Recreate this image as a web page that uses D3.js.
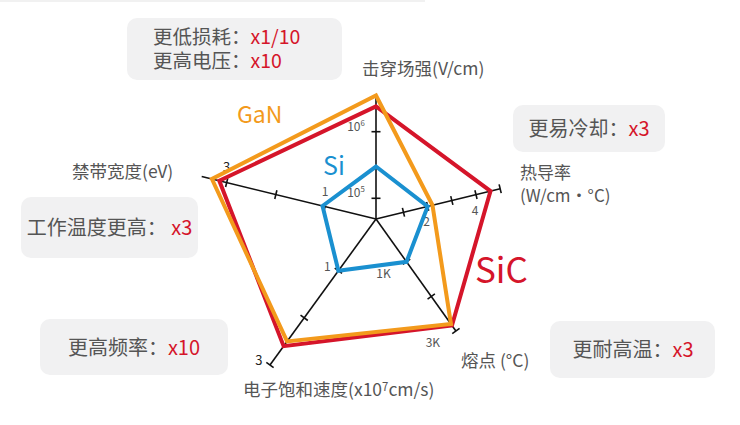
<!DOCTYPE html>
<html><head><meta charset="utf-8">
<script src="https://cdn.jsdelivr.net/npm/d3@7"></script>
<style>
body{margin:0;background:#fff}
svg{display:block}
text{font-family:"Noto Sans CJK SC","Noto Sans",sans-serif}
</style>
</head><body><svg id="c" width="740" height="425"></svg>
<script>
// ---------- data ----------
const axisNames = ["击穿场强(V/cm)", "热导率|(W/cm・°C)", "熔点 (°C)", "电子饱和速度(x10^7cm/s)", "禁带宽度(eV)"];
const seriesNames = ["SiC", "GaN", "Si"];
const sicValues = [2.4e6, 4.6, 2840, 2.6, 3.15];
const ganValues = [3.5e6, 2.2, 2800, 2.5, 3.3];
const siValues  = [3e5, 2.0, 1000, 1.0, 1.05];
const fieldTicks = [1e5, 1e6];
const fieldTickLabels = ["10^5", "10^6"];
const thermalTicks = [1, 2, 3, 4, 5];
const thermalTickLabels = ["", "2", "", "4", ""];
const meltTicks = [1000, 2000, 3000];
const meltTickLabels = ["1K", "", "3K"];
const velocityTicks = [1, 2, 3];
const velocityTickLabels = ["1", "", "3"];
const bandgapTicks = [1, 2, 3];
const bandgapTickLabels = ["1", "", "3"];
const calloutLabels = ["更低损耗：", "更高电压：", "更易冷却：", "工作温度更高： ", "更高频率：", "更耐高温："];
const calloutValues = ["x1/10", "x10", "x3", "x3", "x10", "x3"];

// ---------- layout / style ----------
const svg = d3.select("#c");
const cx = 376, cy = 219;
const colors = {SiC: "#d5152a", GaN: "#f39a1c", Si: "#1a90d0"};
const textGray = "#555";

const axes = [
  {angle: 0,     scale: d3.scaleLog().domain([1e5, 1e6]).range([20.7, 87.3]),      len: 123,   ticks: fieldTicks,    labels: fieldTickLabels,    off: [-20, -7]},
  {angle: 76.3,  scale: d3.scaleLinear().domain([0, 5]).range([3.4, 127.8]),       len: 127.8, ticks: thermalTicks,  labels: thermalTickLabels,  off: [-1, 14]},
  {angle: 144.5, scale: d3.scaleLinear().domain([1000, 3000]).range([52.6, 137.6]), len: 137.6, ticks: meltTicks,     labels: meltTickLabels,     off: [-23, 10]},
  {angle: 216,   scale: d3.scaleLinear().domain([1, 3]).range([64, 180.4]),        len: 180.4, ticks: velocityTicks, labels: velocityTickLabels, off: [-11, -6]},
  {angle: 283.7, scale: d3.scaleLinear().domain([1, 3]).range([52.5, 153.7]),      len: 179.4, ticks: bandgapTicks,  labels: bandgapTickLabels,  off: [0, -17]}
];
function pt(i, r) {
  const a = axes[i].angle * Math.PI / 180;
  return [cx + r * Math.sin(a), cy - r * Math.cos(a)];
}
function addRich(sel, str) {
  // renders "^x" as superscript
  const parts = str.split(/\^(\d)/);
  let pending = null;
  parts.forEach((p, k) => {
    if (!p) return;
    if (k % 2 === 1) {
      sel.append("tspan").attr("dy", "-0.4em").attr("font-size", "0.65em").text(p);
      pending = "0.26em";
    } else {
      const t = sel.append("tspan").text(p);
      if (pending) { t.attr("dy", pending); pending = null; }
    }
  });
}

// faint top rule
svg.append("line").attr("x1", 0).attr("x2", 425).attr("y1", 1).attr("y2", 1)
  .attr("stroke", "#ececec").attr("stroke-width", 1.5);

// ---------- callout boxes ----------
const boxes = [
  {x: 127, y: 18, w: 215, h: 62, lines: [0, 1], tx: 153, ty: [44, 68], anchor: "start", fs: 19.5},
  {x: 513, y: 105, w: 152, h: 47, lines: [2], tx: 589, ty: [136], anchor: "middle", fs: 20},
  {x: 21, y: 197, w: 177, h: 61, lines: [3], tx: 109.5, ty: [235], anchor: "middle", fs: 20},
  {x: 40, y: 319, w: 188, h: 56, lines: [4], tx: 134, ty: [355], anchor: "middle", fs: 20},
  {x: 550, y: 321, w: 165, h: 57, lines: [5], tx: 633, ty: [357], anchor: "middle", fs: 20}
];
boxes.forEach(b => {
  svg.append("rect").attr("x", b.x).attr("y", b.y).attr("width", b.w).attr("height", b.h)
    .attr("rx", 10).attr("fill", "#f1f1f2");
  b.lines.forEach((li, k) => {
    const t = svg.append("text").attr("x", b.tx).attr("y", b.ty[k]).attr("text-anchor", b.anchor)
      .attr("font-size", b.fs).attr("fill", textGray).style("white-space", "pre");
    t.append("tspan").text(calloutLabels[li]);
    t.append("tspan").attr("fill", "#d5152a").text(calloutValues[li]);
  });
});

// ---------- axes ----------
const g = svg.append("g");
axes.forEach((ax, i) => {
  const [x2, y2] = pt(i, ax.len);
  g.append("line").attr("x1", cx).attr("y1", cy).attr("x2", x2).attr("y2", y2)
    .attr("stroke", "#111").attr("stroke-width", 1.6);
  const a = ax.angle * Math.PI / 180;
  const px = Math.cos(a), py = Math.sin(a); // perpendicular
  ax.ticks.forEach((tv, k) => {
    const [tx, ty] = pt(i, ax.scale(tv));
    g.append("line").attr("x1", tx - px * 4.5).attr("y1", ty - py * 4.5)
      .attr("x2", tx + px * 4.5).attr("y2", ty + py * 4.5)
      .attr("stroke", "#111").attr("stroke-width", 1.6);
    const lab = ax.labels[k];
    if (lab) {
      const big = lab === "3";
      const t = g.append("text").attr("x", tx + ax.off[0]).attr("y", ty + ax.off[1])
        .attr("text-anchor", "middle").attr("dominant-baseline", "central")
        .attr("font-size", big ? 13 : 12).attr("fill", big ? "#222" : "#555");
      addRich(t, lab);
    }
  });
});

// ---------- series ----------
const seriesData = {SiC: sicValues, GaN: ganValues, Si: siValues};
const line = d3.line().curve(d3.curveLinearClosed);
seriesNames.forEach(name => {
  const pts = seriesData[name].map((v, i) => pt(i, axes[i].scale(v)));
  svg.append("path").attr("d", line(pts)).attr("fill", "none")
    .attr("stroke", colors[name]).attr("stroke-width", 4).attr("stroke-linejoin", "miter");
});

// ---------- series labels ----------
const seriesLabelPos = {GaN: [237, 123, 23], Si: [323, 175, 25], SiC: [475, 283, 35]};
seriesNames.forEach(name => {
  const p = seriesLabelPos[name];
  svg.append("text").attr("x", p[0]).attr("y", p[1]).attr("font-size", p[2])
    .attr("fill", colors[name]).text(name);
});

// ---------- axis titles ----------
const titlePos = [[362, 75], [520, 179], [461, 367], [243, 396], [72, 178]];
axisNames.forEach((n, i) => {
  const lines = n.split("|");
  lines.forEach((ln, k) => {
    const t = svg.append("text").attr("x", titlePos[i][0]).attr("y", titlePos[i][1] + k * 23)
      .attr("font-size", lines.length > 1 ? 17 : 17.5).attr("fill", textGray);
    addRich(t, ln);
  });
});
</script>
</body></html>
